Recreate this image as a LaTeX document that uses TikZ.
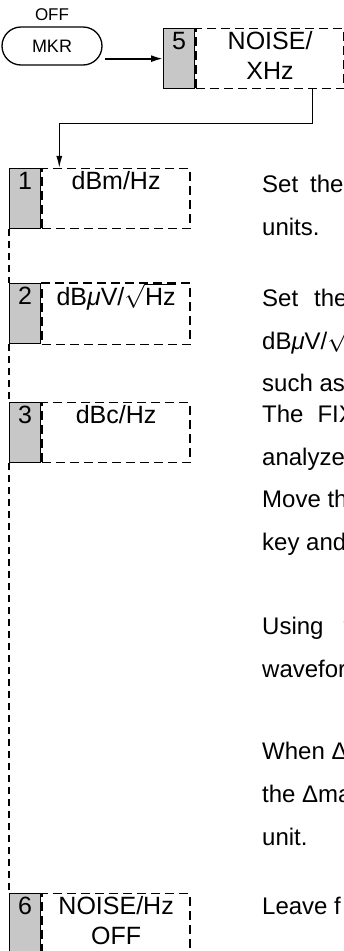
\documentclass[tikz,border=0pt]{standalone}
\usepackage{fontspec}
\setmainfont{Liberation Sans}
\usetikzlibrary{arrows.meta,positioning}
\newcommand\keyfont{\fontsize{25}{30}\selectfont}
\newcommand\descfont{\fontsize{24}{42.7}\selectfont}
\tikzset{
  softkey/.style={
    draw=black,
    rounded corners=19pt,
    minimum width=100pt,
    minimum height=38pt,
    line width=1.3pt,
    font=\fontsize{18}{20}\selectfont
  },
  keytag/.style={
    inner sep=0pt,
    font=\fontsize{17}{20}\selectfont
  },
  keynum/.style={
    draw=black,
    fill=black!22,
    line width=1.3pt,
    minimum width=31pt,
    minimum height=60pt,
    inner sep=0pt,
    align=center,
    font=\keyfont
  },
  keylabel/.style={
    draw=black,
    dash pattern=on 9pt off 5pt,
    line width=1.6pt,
    minimum width=148pt,
    minimum height=60pt,
    inner sep=0pt,
    align=center,
    font=\keyfont
  },
  desc/.style={
    anchor=north west,
    inner sep=0pt,
    align=left,
    font=\descfont
  },
  keyarrow/.style={
    -{Latex[length=12pt,width=7pt]},
    line width=1.8pt
  },
  keylink/.style={
    -{Latex[length=12pt,width=6pt]},
    line width=1.2pt
  },
  keychain/.style={
    dash pattern=on 7pt off 5pt,
    line width=1.3pt
  }
}

\begin{document}
\begin{tikzpicture}[x=1pt, y=-1pt]
  \useasboundingbox (0,0) rectangle (344,951);
  \clip (0,0) rectangle (344,951);
  % panel key and the soft key that opens the menu
  \node[softkey] (mkr) at (52,46) {MKR};
  \node[keytag, above=5pt of mkr] (off) {OFF};
  \node[keynum, anchor=north west] (n5) at (163,28) {\strut 5\\\strut};
  \node[keylabel, right=0pt of n5] (l5) {\strut NOISE/\\\strut XHz};
  % soft keys of the menu
  \node[keynum, anchor=north west] (n1) at (9,168) {\strut 1\\\strut};
  \node[keylabel, right=0pt of n1] (l1) {\strut dBm/Hz\\\strut};
  \node[keynum, anchor=north west] (n2) at (9,283) {\strut 2\\\strut};
  \node[keylabel, right=0pt of n2] (l2) {\strut dB{\itshape μ}V/$\sqrt{\mbox{Hz}}$\\\strut};
  \node[keynum, anchor=north west] (n3) at (9,402) {\strut 3\\\strut};
  \node[keylabel, right=0pt of n3] (l3) {\strut dBc/Hz\\\strut};
  \node[keynum, anchor=north west] (n6) at (9,893) {\strut 6\\\strut};
  \node[keylabel, right=0pt of n6] (l6) {\strut NOISE/Hz\\\strut OFF};
  % descriptions
  \node[desc] (d1) at (262,175) {Set\hspace{12pt}the noise\\units.};
  \node[desc] (d2) at (262,289) {Set\hspace{16pt}the\\dB{\itshape μ}V/$\sqrt{\mbox{Hz}}$\\such as};
  \node[desc] (d3) at (262,405) {The\hspace{14pt}FIX\\analyzer\\Move the\\key and};
  \node[desc] (d4) at (262,617) {Using\hspace{20pt}the\\waveform};
  \node[desc] (d5) at (262,742) {When Δ\\the Δmarker\\unit.};
  \node[desc] (d6) at (262,897) {Leave f};
  % connectors
  \draw[keyarrow] ([xshift=2pt]mkr.east |- n5.west) -- (n5.west);
  \draw[keylink] ([xshift=42pt]l5.south) -- ++(0,34) -| ([xshift=18pt]l1.north west);
  \draw[keychain] (n1.south west) -- (n2.north west);
  \draw[keychain] (n2.south west) -- (n3.north west);
  \draw[keychain] (n3.south west) -- (n6.north west);
\end{tikzpicture}
\end{document}
